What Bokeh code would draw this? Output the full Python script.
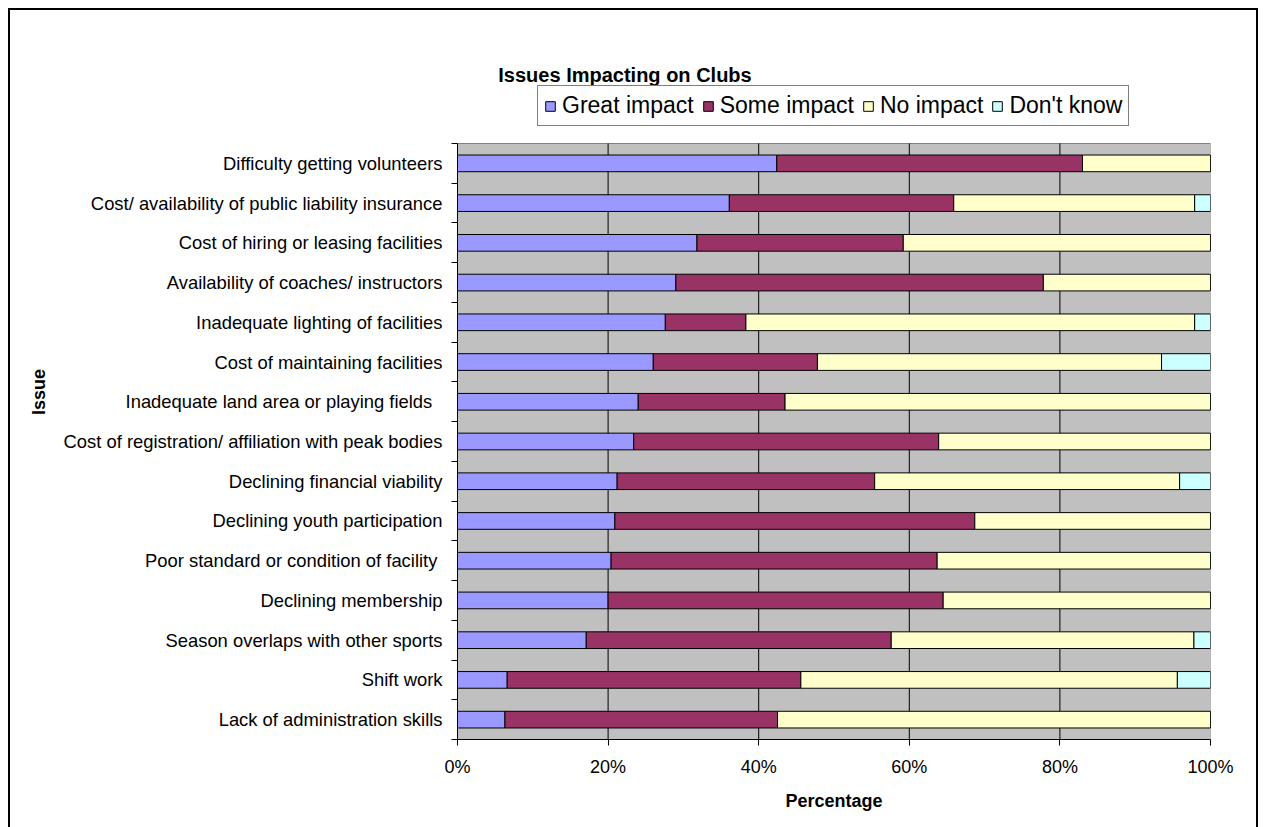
from bokeh.plotting import figure
from bokeh.models import ColumnDataSource, FixedTicker, Legend, LegendItem, Label
from bokeh.embed import file_html
from bokeh.resources import INLINE

categories = [
    "Difficulty getting volunteers",
    "Cost/ availability of public liability insurance",
    "Cost of hiring or leasing facilities",
    "Availability of coaches/ instructors",
    "Inadequate lighting of facilities",
    "Cost of maintaining facilities",
    "Inadequate land area or playing fields  ",
    "Cost of registration/ affiliation with peak bodies",
    "Declining financial viability",
    "Declining youth participation",
    "Poor standard or condition of facility ",
    "Declining membership",
    "Season overlaps with other sports",
    "Shift work",
    "Lack of administration skills",
]
great_impact = [42.4, 36.1, 31.8, 29.0, 27.6, 26.0, 24.0, 23.4, 21.2, 20.9, 20.4, 20.0, 17.1, 6.6, 6.3]
some_impact = [40.6, 29.8, 27.4, 48.8, 10.7, 21.8, 19.5, 40.5, 34.2, 47.8, 43.3, 44.5, 40.5, 39.0, 36.2]
no_impact = [17.0, 32.0, 40.8, 22.2, 59.6, 45.7, 56.5, 36.1, 40.5, 31.3, 36.3, 35.5, 40.2, 50.0, 57.5]
dont_know = [0.0, 2.1, 0.0, 0.0, 2.1, 6.5, 0.0, 0.0, 4.1, 0.0, 0.0, 0.0, 2.2, 4.4, 0.0]

series_names = ["Great impact", "Some impact", "No impact", "Don't know"]
series_keys = ["great", "some", "none", "dk"]
series_colors = ["#9999FF", "#993366", "#FFFFCC", "#CCFFFF"]
x_ticks = [0, 20, 40, 60, 80, 100]
x_tick_labels = ["0%", "20%", "40%", "60%", "80%", "100%"]
title_text = "Issues Impacting on Clubs"

FONT = "Liberation Sans"
n = len(categories)
ypos = [n - i - 0.5 for i in range(n)]

# layout (pixels)
W, H = 1266, 827
FRAME_LEFT, FRAME_RIGHT = 457, 1210
FRAME_TOP, DATA_TOP, DATA_BOTTOM = 44, 143, 739
y_end = n * (DATA_BOTTOM - FRAME_TOP) / (DATA_BOTTOM - DATA_TOP)

source = ColumnDataSource(dict(y=ypos, great=great_impact, some=some_impact,
                               none=no_impact, dk=dont_know))

p = figure(width=W, height=H, x_range=(0, x_ticks[-1]), y_range=(0, y_end),
           output_backend="svg", toolbar_location=None,
           min_border_left=FRAME_LEFT, min_border_right=W - FRAME_RIGHT,
           min_border_top=FRAME_TOP, min_border_bottom=H - DATA_BOTTOM)

# outer chart border (left, top, right) 8px in from the window edge
p.styles = {"box-shadow": ("inset 8px 8px 0 0 white, inset -8px 0 0 0 white, "
                           "inset 10px 10px 0 0 black, inset -10px 0 0 0 black"),
            "background-color": "white"}
p.background_fill_color = None
p.border_fill_color = None
p.outline_line_color = None

# plot area
p.quad(left=[x_ticks[0]], right=[x_ticks[-1]], bottom=[0], top=[n],
       fill_color="#C0C0C0", line_color="#808080", line_width=1)
grid_x = x_ticks[1:-1]
p.segment(x0=grid_x, y0=[0] * len(grid_x), x1=grid_x, y1=[n] * len(grid_x),
          line_color="black", line_width=1)

renderers = p.hbar_stack(series_keys, y="y", height=0.42, source=source,
                         fill_color=series_colors, line_color="black", line_width=1)

p.xgrid.visible = False
p.ygrid.visible = False

# x axis
xa = p.xaxis[0]
xa.ticker = FixedTicker(ticks=x_ticks)
xa.major_label_overrides = {t: l for t, l in zip(x_ticks, x_tick_labels)}
xa.major_tick_out = 6
xa.major_tick_in = 0
xa.minor_tick_line_color = None
xa.axis_line_color = "black"
xa.major_tick_line_color = "black"
xa.major_label_text_font = FONT
xa.major_label_text_font_size = "18px"
xa.major_label_text_color = "black"
xa.major_label_standoff = 11
xa.axis_label = "Percentage"
xa.axis_label_text_font = FONT
xa.axis_label_text_font_size = "18px"
xa.axis_label_text_font_style = "bold"
xa.axis_label_text_color = "black"
xa.axis_label_standoff = 11

# y axis
ya = p.yaxis[0]
ya.bounds = (0, n)
ya.ticker = FixedTicker(ticks=ypos, minor_ticks=list(range(n + 1)))
ya.major_label_overrides = {y: c for y, c in zip(ypos, categories)}
ya.major_tick_line_color = None
ya.major_tick_out = 0
ya.major_tick_in = 0
ya.minor_tick_line_color = "black"
ya.minor_tick_out = 6
ya.minor_tick_in = 0
ya.axis_line_color = "black"
ya.major_label_text_font = FONT
ya.major_label_text_font_size = "18.4px"
ya.major_label_text_color = "black"
ya.major_label_standoff = 9
ya.axis_label = "Issue"
ya.axis_label_text_font = FONT
ya.axis_label_text_font_size = "18px"
ya.axis_label_text_font_style = "bold"
ya.axis_label_text_color = "black"
ya.axis_label_standoff = 12

# legend (inside the extended frame, above the plot area)
legend = Legend(items=[LegendItem(label=nm, renderers=[r]) for nm, r in zip(series_names, renderers)],
                orientation="horizontal", location=(80, DATA_BOTTOM - 126),
                glyph_width=12, glyph_height=12, label_standoff=6, spacing=8,
                padding=6, margin=0, label_height=20,
                label_text_font=FONT, label_text_font_size="23px",
                label_text_color="black",
                border_line_color="black", border_line_width=1,
                background_fill_color="white", background_fill_alpha=1)
p.add_layout(legend, "center")

title = Label(x=167.5, y=DATA_BOTTOM - 74, x_units="screen", y_units="screen",
              text=title_text, text_align="center", text_baseline="middle",
              text_font=FONT, text_font_size="20px", text_font_style="bold",
              text_color="black")
p.add_layout(title)

open("out.html", "w").write(file_html(p, INLINE))
